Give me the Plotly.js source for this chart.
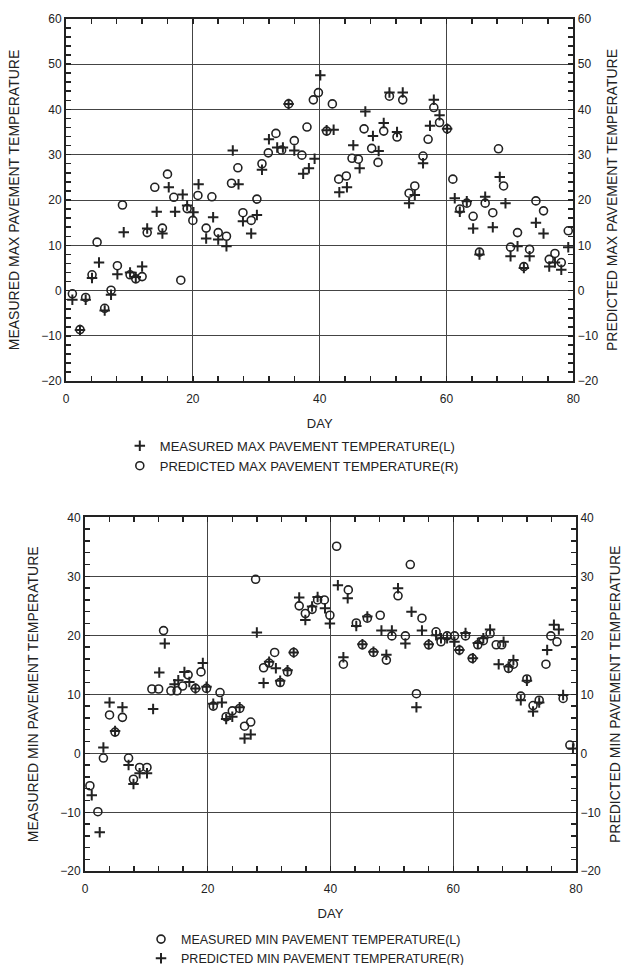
<!DOCTYPE html>
<html>
<head>
<meta charset="utf-8">
<script src="https://cdn.plot.ly/plotly-3.0.1.min.js"></script>
<style>html,body{margin:0;padding:0;background:#fff;}#chart{width:624px;height:965px;}</style>
</head>
<body>
<div id="chart"></div>
<script>
// ---- Top chart: max pavement temperature ----
const dayMaxMeasured = [1.0,2.2,3.1,4.1,5.2,6.1,7.1,8.1,9.1,10.1,11.0,12.0,12.8,14.3,15.2,16.2,17.2,18.4,19.1,20.1,20.9,22.1,23.2,24.0,25.3,26.3,27.2,27.9,29.2,30.1,30.9,32.0,33.3,34.2,35.1,36.0,37.4,38.3,39.2,40.1,41.1,42.2,43.1,44.3,45.3,46.3,47.2,48.4,49.3,50.1,51.0,52.2,53.1,54.1,55.0,56.3,57.4,58.0,58.9,60.1,61.3,62.1,63.2,64.2,65.2,66.1,67.3,68.4,69.3,70.1,71.2,72.2,73.1,74.1,75.3,76.2,77.1,78.1,79.2];
const maxMeasured = [-2.0,-8.7,-2.0,2.8,6.2,-4.4,-0.9,3.6,12.9,4.0,3.0,5.3,13.7,17.4,12.6,22.8,17.4,21.2,18.8,17.3,23.5,11.5,16.2,11.3,9.8,30.9,23.5,15.3,12.6,16.7,26.7,33.4,31.6,31.6,41.2,30.9,25.8,27.0,29.1,47.5,35.4,35.5,21.7,22.8,32.1,27.0,39.5,34.1,30.8,37.0,43.7,35.0,43.7,19.3,21.1,28.1,36.4,42.1,38.7,35.7,20.4,17.4,19.7,13.7,8.0,20.7,14.0,25.1,19.3,7.6,9.8,5.0,7.6,15.0,12.6,5.3,6.2,4.6,9.6];
const dayMaxPredicted = [1.0,2.2,3.1,4.1,4.9,6.1,7.1,8.1,8.9,10.1,11.0,12.0,12.8,14.0,15.2,16.0,17.0,18.1,19.1,20.0,20.8,22.1,23.0,24.0,25.3,26.1,27.1,27.9,29.2,30.1,30.9,31.9,33.1,34.0,35.1,36.0,37.2,38.0,39.0,39.8,41.1,42.0,43.0,44.2,45.1,46.1,47.0,48.2,49.2,50.1,51.0,52.2,53.1,54.1,55.0,56.3,57.1,58.0,58.9,60.1,61.0,62.1,63.2,64.2,65.2,66.1,67.3,68.2,69.0,70.1,71.2,72.2,73.1,74.1,75.3,76.2,77.1,78.1,79.2];
const maxPredicted = [-0.7,-8.6,-1.5,3.5,10.7,-3.9,0.1,5.5,18.9,3.5,2.6,3.1,12.8,22.8,13.8,25.7,20.6,2.3,18.1,15.5,21.0,13.8,20.7,12.8,12.0,23.7,27.1,17.2,15.5,20.2,28.0,30.4,34.7,31.0,41.2,33.1,29.9,36.1,42.1,43.7,35.2,41.2,24.6,25.3,29.2,29.0,35.7,31.4,28.3,35.2,42.9,33.9,42.1,21.5,23.1,29.7,33.4,40.4,37.1,35.7,24.6,18.0,19.3,16.4,8.5,19.3,17.2,31.3,23.1,9.6,12.8,5.3,9.1,19.8,17.6,6.9,8.2,6.2,13.2];

// ---- Bottom chart: min pavement temperature ----
const dayMinMeasured = [0.8,2.1,3.0,4.0,4.9,6.1,7.1,7.9,8.9,10.1,10.9,12.0,12.8,14.0,15.0,15.9,16.8,18.0,18.9,19.8,20.9,22.0,23.0,24.0,25.2,26.0,27.0,27.8,29.1,30.0,30.9,31.8,33.0,34.0,34.9,35.9,37.0,37.9,39.0,39.9,41.0,42.1,42.9,44.2,45.2,46.0,47.0,48.1,49.1,50.0,51.0,52.2,53.0,54.0,54.9,56.0,57.2,58.0,59.0,60.2,61.0,62.0,63.1,64.0,64.9,66.0,67.0,67.9,69.0,69.8,71.0,72.0,73.0,74.0,75.1,75.9,76.9,77.9,79.0];
const minMeasured = [-5.5,-9.9,-0.8,6.5,3.6,6.1,-0.8,-4.4,-2.4,-2.4,10.9,10.9,20.8,10.6,10.6,11.4,13.3,11.0,13.8,11.0,8.0,10.3,6.2,7.2,7.6,4.6,5.3,29.5,14.5,15.3,17.1,12.0,13.8,17.1,25.0,23.7,24.4,26.0,26.0,23.4,35.1,15.1,27.7,22.1,18.4,22.9,17.1,23.4,15.8,19.9,26.7,19.9,32.0,10.1,22.9,18.4,20.6,18.9,19.9,19.9,17.5,19.9,16.1,18.4,19.1,20.3,18.4,18.4,14.4,15.1,9.7,12.6,8.1,9.0,15.1,19.9,18.9,9.3,1.4];
const dayMinPredicted = [1.1,2.4,3.0,4.0,4.9,6.1,7.1,7.9,8.9,10.1,11.1,12.1,13.0,14.6,15.2,16.2,17.0,18.0,19.2,19.8,20.9,22.3,23.0,24.0,25.2,26.0,27.0,28.0,29.1,30.0,31.1,31.8,33.0,34.0,34.9,35.9,37.0,37.9,39.1,39.9,41.2,42.1,42.8,44.2,45.2,46.0,47.0,48.3,49.1,50.0,51.0,52.2,53.2,54.0,54.9,56.0,57.2,58.0,59.0,60.2,61.0,62.0,63.2,64.0,64.9,66.0,67.4,68.2,69.0,69.8,71.0,72.0,73.0,74.0,75.3,76.4,77.2,77.9,79.5];
const minPredicted = [-7.1,-13.4,1.0,8.6,3.8,7.8,-2.0,-5.2,-3.4,-3.4,7.5,13.7,18.6,11.7,12.4,13.8,12.1,11.0,15.3,11.3,8.4,8.6,5.8,6.2,7.8,2.5,3.2,20.5,11.9,15.5,14.4,12.3,14.1,17.1,26.4,22.6,24.9,26.5,24.6,22.0,28.5,16.3,26.3,21.6,18.5,23.2,17.2,20.8,16.7,20.8,28.0,18.6,24.0,7.8,20.8,18.5,20.0,19.5,19.5,18.9,17.5,20.4,16.1,18.7,19.5,21.0,15.1,18.9,14.7,15.8,9.0,12.3,7.1,8.6,17.5,21.8,21.0,9.9,0.8];

const INK = '#222';
const FONT = 'Liberation Sans, Arial, Helvetica, sans-serif';
const crossMarker = {symbol:'cross-thin-open', size:7.5, color:INK, line:{color:INK, width:2}};
const circleMarker = {symbol:'circle-open', size:8, color:INK, line:{color:INK, width:1.6}};

const traces = [
  {x: dayMaxMeasured, y: maxMeasured, xaxis:'x', yaxis:'y', type:'scatter', mode:'markers',
   marker: crossMarker, name:'MEASURED MAX PAVEMENT TEMPERATURE(L)', legend:'legend'},
  {x: dayMaxPredicted, y: maxPredicted, xaxis:'x', yaxis:'y2', type:'scatter', mode:'markers',
   marker: circleMarker, name:'PREDICTED MAX PAVEMENT TEMPERATURE(R)', legend:'legend'},
  {x: dayMinMeasured, y: minMeasured, xaxis:'x2', yaxis:'y3', type:'scatter', mode:'markers',
   marker: circleMarker, name:'MEASURED MIN PAVEMENT TEMPERATURE(L)', legend:'legend2'},
  {x: dayMinPredicted, y: minPredicted, xaxis:'x2', yaxis:'y4', type:'scatter', mode:'markers',
   marker: crossMarker, name:'PREDICTED MIN PAVEMENT TEMPERATURE(R)', legend:'legend2'}
];

function xAx(domain, anchor) {
  return {domain: domain, anchor: anchor, range:[0,80], tick0:0, dtick:20,
    ticks:'inside', ticklen:5, tickwidth:1.5, tickcolor:INK,
    showline:true, linewidth:2, linecolor:INK, mirror:'allticks',
    showgrid:true, gridcolor:'#444', gridwidth:1, zeroline:false,
    ticklabelstandoff:5,
    minor:{dtick:4, ticks:'inside', ticklen:5, tickwidth:1.5, tickcolor:INK, showgrid:false},
    tickfont:{size:12, color:INK, family:FONT},
    title:{text:'DAY', font:{size:13, color:INK, family:FONT}, standoff:14}};
}
function yAx(domain, anchor, range, title, side, overlay) {
  const a = {domain: domain, anchor: anchor, range: range, tick0:0, dtick:10,
    ticks:'inside', ticklen:5, tickwidth:1.5, tickcolor:INK,
    showline:true, linewidth:2, linecolor:INK,
    zeroline:false, side: side,
    minor:{dtick:2, ticks:'inside', ticklen:5, tickwidth:1.5, tickcolor:INK, showgrid:false},
    tickfont:{size:12, color:INK, family:FONT},
    title:{text:title, font:{size:14, color:INK, family:FONT}, standoff: side==='left'?18:10}};
  if (overlay) { a.overlaying = overlay; a.showgrid = false; }
  else { a.showgrid = true; a.gridcolor = '#444'; a.gridwidth = 1; }
  return a;
}

const layout = {
  width:624, height:965,
  margin:{l:0, r:0, t:0, b:0, autoexpand:false},
  paper_bgcolor:'#fff', plot_bgcolor:'#fff',
  font:{family:FONT, size:12, color:INK},
  xaxis: xAx([0.1058,0.9188], 'y'),
  yaxis: yAx([0.6049,0.9806], 'x', [-20,60], 'MEASURED MAX PAVEMENT TEMPERATURE', 'left', null),
  yaxis2: yAx([0.6049,0.9806], 'x', [-20,60], 'PREDICTED MAX PAVEMENT TEMPERATURE', 'right', 'y'),
  xaxis2: xAx([0.1362,0.9231], 'y3'),
  yaxis3: yAx([0.0971,0.4639], 'x2', [-20,40], 'MEASURED MIN PAVEMENT TEMPERATURE', 'left', null),
  yaxis4: yAx([0.0971,0.4639], 'x2', [-20,40], 'PREDICTED MIN PAVEMENT TEMPERATURE', 'right', 'y3'),
  showlegend:true,
  legend:{x:0.192, y:0.5535, xanchor:'left', yanchor:'top', bgcolor:'rgba(0,0,0,0)',
    font:{size:13, color:INK, family:FONT}, tracegroupgap:0, itemwidth:30},
  legend2:{x:0.226, y:0.042, xanchor:'left', yanchor:'top', bgcolor:'rgba(0,0,0,0)',
    font:{size:12.5, color:INK, family:FONT}, tracegroupgap:0, itemwidth:30}
};

Plotly.newPlot('chart', traces, layout, {displayModeBar:false, staticPlot:true});
</script>
</body>
</html>
